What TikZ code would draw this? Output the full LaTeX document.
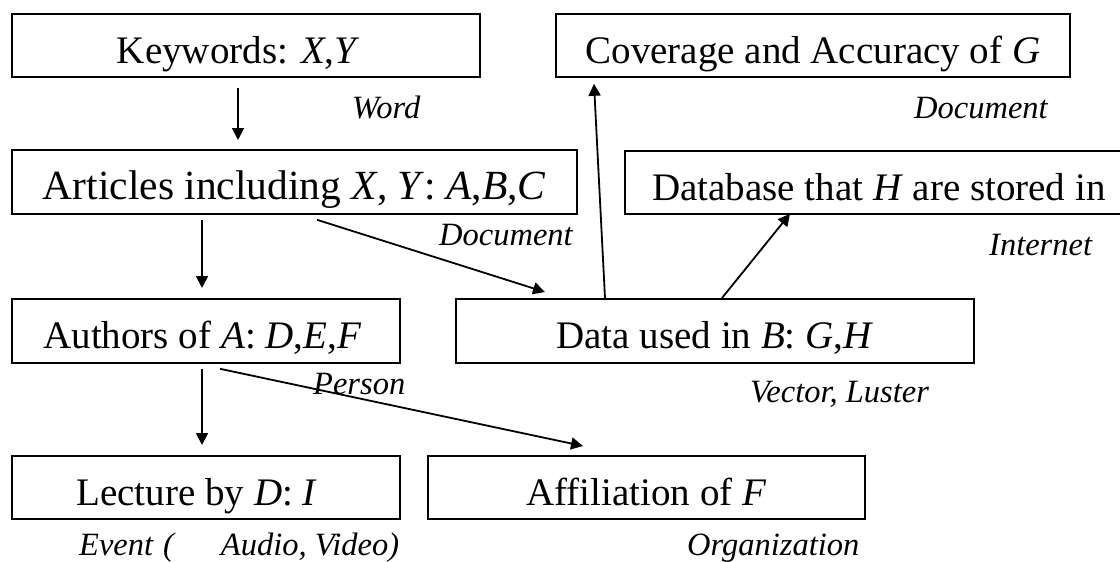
\documentclass[tikz,border=0pt]{standalone}
\usepackage{fontspec}
\setmainfont{Liberation Serif}
\usetikzlibrary{arrows.meta,calc}
\newcommand{\vi}[1]{\textit{#1}}
\newcommand{\boxfont}{\fontsize{39}{47}\selectfont}
\newcommand{\artfont}{\fontsize{41.5}{49}\selectfont}
\newcommand{\lblfont}{\fontsize{32.5}{39}\selectfont\itshape}
\begin{document}
\begin{tikzpicture}[x=1pt,y=-1pt,
  box/.style={draw, line width=1.8pt, inner sep=0pt, anchor=north west,
    font=\boxfont, text height=38pt, text depth=2pt},
  lbl/.style={inner sep=0pt, anchor=base west, font=\lblfont},
  arr/.style={line width=1.8pt, -{Triangle[length=12pt,width=12pt]}}]
\clip (0,0) rectangle (1120,562);
\fill[white] (0,0) rectangle (1120,562);

% boxes
\node[box, minimum width=468pt, minimum height=63pt] (kw) at (11,13)
  {Keywords: \vi{X},\vi{Y}\hspace*{15pt}};
\node[box, minimum width=514pt, minimum height=63pt] (cov) at (555,13)
  {Coverage and Accuracy of \vi{G}};
\node[box, minimum width=565pt, minimum height=64pt, font=\artfont] (art) at (11,149)
  {Articles including \vi{X}, \vi{Y}: \vi{A},\vi{B},\vi{C}};
\node[box, minimum width=508pt, minimum height=63pt] (db) at (624,150)
  {Database that \vi{H} are stored in};
\node[box, minimum width=388pt, minimum height=64pt] (auth) at (11,298)
  {Authors of \vi{A}: \vi{D},\vi{E},\vi{F}\hspace*{7pt}};
\node[box, minimum width=518pt, minimum height=64pt] (data) at (455,298)
  {Data used in \vi{B}: \vi{G},\vi{H}};
\node[box, minimum width=388pt, minimum height=63pt] (lec) at (11,455)
  {Lecture by \vi{D}: \vi{I}\hspace*{18pt}};
\node[box, minimum width=437pt, minimum height=63pt] (aff) at (427,455)
  {Affiliation of \vi{F}};

% labels
\node[lbl] (lword) at (352,118) {Word};
\node[lbl] (ldoc1) at (914,118) {Document};
\node[lbl] (ldoc2) at (439,245) {Document};
\node[lbl] (lnet) at (989,255) {Internet};
\node[lbl] (lper) at (313,394) {Person};
\node[lbl] (lvec) at (750,402) {Vector, Luster};
\node[lbl] (lev) at (79,555) {Event\hspace*{10pt}(\hspace*{47pt}Audio, Video)};
\node[lbl] (lorg) at (687,555) {Organization};

% connectors
\draw[arr] ($(kw.south west)+(227,10)$) -- ($(art.north west)+(227,-9)$);
\draw[arr] ($(art.south west)+(191,5)$) -- ($(auth.north west)+(191,-10)$);
\draw[arr] ($(art.south west)+(306,5)$) -- ($(data.north west)+(90,-6)$);
\draw[arr] ($(data.north west)+(150,0)$) -- ($(cov.south west)+(39,6)$);
\draw[arr] ($(data.north west)+(267,0)$) -- ($(db.south west)+(166,-1)$);
\draw[arr] ($(auth.south west)+(191,5)$) -- ($(lec.north west)+(191,-10)$);
\draw[arr] ($(auth.south west)+(209,5)$) -- ($(aff.north west)+(156,-9)$);
\end{tikzpicture}
\end{document}
